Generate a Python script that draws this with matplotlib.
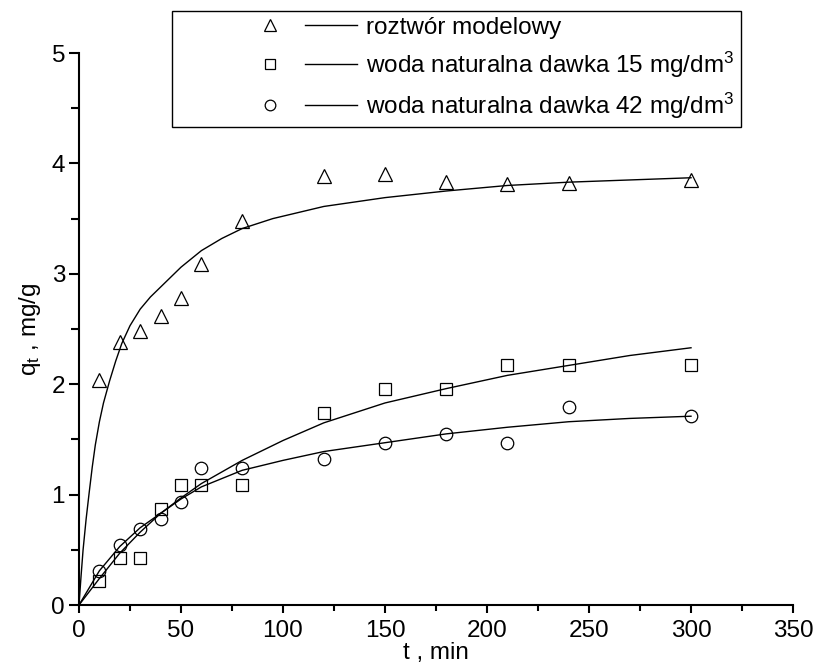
import numpy as np
import matplotlib
matplotlib.use("Agg")
import matplotlib.pyplot as plt
from matplotlib.lines import Line2D
from matplotlib.legend_handler import HandlerBase

plt.rcParams['font.family'] = ['Liberation Sans', 'DejaVu Sans']
plt.rcParams['mathtext.fontset'] = 'custom'
plt.rcParams['mathtext.rm'] = 'Liberation Sans'
plt.rcParams['mathtext.it'] = 'Liberation Sans:italic'

# punkty pomiarowe
t_pts = [10, 20, 30, 40, 50, 60, 80, 120, 150, 180, 210, 240, 300]
q_model = [2.04, 2.38, 2.48, 2.62, 2.78, 3.09, 3.48, 3.89, 3.90, 3.83, 3.81, 3.82, 3.85]
q_15 = [0.22, 0.43, 0.43, 0.87, 1.09, 1.09, 1.09, 1.74, 1.96, 1.96, 2.17, 2.17, 2.17]
q_42 = [0.31, 0.54, 0.69, 0.78, 0.93, 1.24, 1.24, 1.32, 1.47, 1.55, 1.47, 1.79, 1.71]

# krzywe dopasowania
t_fit_model = [0, 1, 2, 3.5, 5, 6.5, 8, 10, 12, 15, 18, 21, 25, 30, 35, 40, 50, 60, 70, 80, 95, 120, 150, 180, 210, 240, 270, 300]
q_fit_model = [0, 0.26, 0.50, 0.78, 1.02, 1.25, 1.45, 1.66, 1.83, 2.03, 2.21, 2.37, 2.53, 2.68, 2.79, 2.88, 3.06, 3.21, 3.32, 3.41, 3.50, 3.61, 3.69, 3.75, 3.80, 3.83, 3.85, 3.87]
t_fit = [0, 10, 20, 30, 40, 50, 60, 80, 100, 120, 150, 180, 210, 240, 270, 300]
q_fit_15 = [0, 0.24, 0.47, 0.66, 0.83, 0.97, 1.10, 1.31, 1.49, 1.65, 1.83, 1.96, 2.08, 2.17, 2.26, 2.33]
q_fit_42 = [0, 0.31, 0.53, 0.70, 0.83, 0.96, 1.07, 1.22, 1.31, 1.39, 1.47, 1.55, 1.61, 1.66, 1.69, 1.71]

labels = ['roztwór modelowy',
          'woda naturalna dawka 15 mg/dm$^3$',
          'woda naturalna dawka 42 mg/dm$^3$']

FS = 17.5


class MarkerThenLine(HandlerBase):
    # znacznik po lewej, odcinek linii po prawej
    def create_artists(self, legend, orig_handle, xdescent, ydescent,
                       width, height, fontsize, trans):
        mk, ln = orig_handle
        y = height / 2 - ydescent
        x0 = -xdescent
        m = Line2D([x0 + 0.51 * width], [y], marker=mk.get_marker(),
                   markersize=mk.get_markersize() * 0.85, linestyle='none',
                   markerfacecolor='none', markeredgecolor='black',
                   markeredgewidth=mk.get_markeredgewidth())
        l = Line2D([x0 + 0.705 * width, x0 + width], [y, y],
                   color='black', lw=ln.get_linewidth())
        m.set_transform(trans)
        l.set_transform(trans)
        return [m, l]


fig = plt.figure(figsize=(8.16, 6.72), dpi=100)
ax = fig.add_axes([79/816, 1-605/672, (793-79)/816, (605-53)/672])

mk = dict(linestyle='none', markerfacecolor='none', markeredgecolor='black', markeredgewidth=0.9)
p1, = ax.plot(t_pts, q_model, marker='^', markersize=10, **mk)
p2, = ax.plot(t_pts, q_15, marker='s', markersize=8, **mk)
p3, = ax.plot(t_pts, q_42, marker='o', markersize=9, **mk)

lk = dict(color='black', lw=1.0, solid_joinstyle='round')
l1, = ax.plot(t_fit_model, q_fit_model, **lk)
l2, = ax.plot(t_fit, q_fit_15, **lk)
l3, = ax.plot(t_fit, q_fit_42, **lk)

ax.set_xlim(0, 350)
ax.set_ylim(0, 5)
ax.set_xticks(np.arange(0, 351, 50))
ax.set_xticks(np.arange(25, 350, 50), minor=True)
ax.set_yticks(np.arange(0, 6, 1))
ax.set_yticks(np.arange(0.5, 5, 1), minor=True)
for s in ['top', 'right']:
    ax.spines[s].set_visible(False)
for s in ['left', 'bottom']:
    ax.spines[s].set_linewidth(1.5)
ax.tick_params(which='major', direction='out', length=6, width=1.5, labelsize=FS)
ax.tick_params(axis='x', which='major', pad=5)
ax.tick_params(axis='y', which='major', length=7, pad=3)
ax.tick_params(which='minor', direction='out', length=4, width=1.5)
ax.tick_params(axis='y', which='minor', length=6)

ax.set_xlabel('t , min', fontsize=FS, labelpad=0)
ax.set_ylabel('q$_\\mathrm{t}$ , mg/g', fontsize=FS, labelpad=6)

leg = fig.legend([(p1, l1), (p2, l2), (p3, l3)], labels,
                 handler_map={tuple: MarkerThenLine()},
                 loc='upper left', bbox_to_anchor=(172/816, 1-10.7/672),
                 bbox_transform=fig.transFigure, borderaxespad=0,
                 fontsize=FS, handlelength=7.38, handletextpad=0.37,
                 labelspacing=0.45, borderpad=0.25, frameon=True, fancybox=False,
                 edgecolor='black', framealpha=1)
leg.get_frame().set_linewidth(1.0)

fig.savefig('out.png', dpi=100)
